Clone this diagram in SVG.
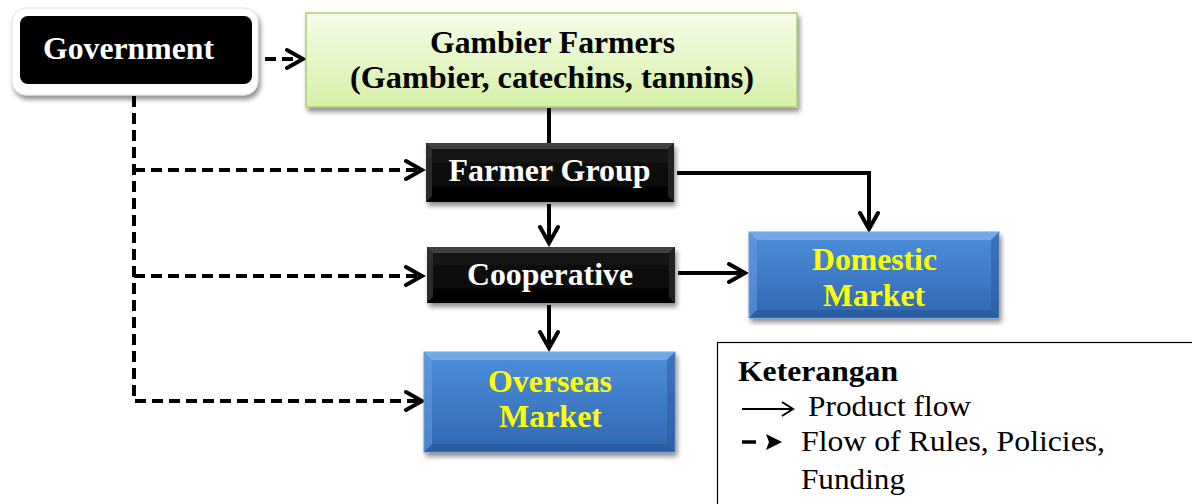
<svg xmlns="http://www.w3.org/2000/svg" width="1192" height="504" viewBox="0 0 1192 504">
<style>
.lbl{font-family:"Liberation Serif","Times New Roman",serif;font-weight:bold;font-size:31px;text-anchor:middle}
.w{fill:#ffffff}
.k{fill:#000000}
.y{fill:#ffff00}
.flow{fill:none;stroke:#000;stroke-width:4}
.dash{fill:none;stroke:#000;stroke-width:4;stroke-dasharray:11 6}
.leg{font-family:"Liberation Serif","Times New Roman",serif;font-size:29px;fill:#000}
</style>
<defs>
<marker id="ah" markerUnits="userSpaceOnUse" markerWidth="24" markerHeight="24" viewBox="0 0 24 24" refX="20" refY="12" orient="auto">
<path d="M4,3 L20,12 L4,21" fill="none" stroke="#000" stroke-width="4" stroke-linejoin="miter" stroke-linecap="round"/>
</marker>
<linearGradient id="green" x1="0" y1="0" x2="0" y2="1">
<stop offset="0" stop-color="#f5fce9"/>
<stop offset="1" stop-color="#d5f0a6"/>
</linearGradient>
<linearGradient id="blue" x1="0" y1="0" x2="0" y2="1">
<stop offset="0" stop-color="#4d8fdb"/>
<stop offset="1" stop-color="#3168b2"/>
</linearGradient>
<linearGradient id="blk" x1="0" y1="0" x2="0" y2="1">
<stop offset="0" stop-color="#1a1a1a"/>
<stop offset="1" stop-color="#000"/>
</linearGradient>
<filter id="sh" x="-10%" y="-10%" width="125%" height="140%">
<feGaussianBlur in="SourceAlpha" stdDeviation="2.5"/>
<feOffset dx="2" dy="4" result="b"/>
<feComponentTransfer><feFuncA type="linear" slope="0.45"/></feComponentTransfer>
<feMerge><feMergeNode/><feMergeNode in="SourceGraphic"/></feMerge>
</filter>
</defs>

<g id="connectors">
<path class="dash" d="M265,59 H303" marker-end="url(#ah)"/>
<path class="dash" d="M134,96 V401 H422" marker-end="url(#ah)"/>
<path class="dash" d="M134,170 H422" marker-end="url(#ah)"/>
<path class="dash" d="M134,276 H422" marker-end="url(#ah)"/>
<path class="flow" d="M549,108 V143"/>
<path class="flow" d="M549,204 V243" marker-end="url(#ah)"/>
<path class="flow" d="M549,305 V348" marker-end="url(#ah)"/>
<path class="flow" d="M677,173 H869 V229" marker-end="url(#ah)"/>
<path class="flow" d="M678,273 H745" marker-end="url(#ah)"/>
</g>

<g id="government">
<rect x="12" y="8" width="246" height="87" rx="14" fill="#fff" stroke="#e0e0e0" stroke-width="1" filter="url(#sh)"/>
<rect x="20" y="16" width="232" height="68" rx="8" fill="#000"/>
<text class="lbl w" x="128.5" y="59" textLength="171" lengthAdjust="spacingAndGlyphs">Government</text>
</g>

<g id="gambier-farmers">
<rect x="306" y="13" width="491" height="94" fill="url(#green)" stroke="#a9d070" stroke-width="1.5" filter="url(#sh)"/>
<text class="lbl k" x="552.5" y="53" textLength="245" lengthAdjust="spacingAndGlyphs">Gambier Farmers</text>
<text class="lbl k" x="552" y="88" textLength="404" lengthAdjust="spacingAndGlyphs">(Gambier, catechins, tannins)</text>
</g>

<g id="farmer-group">
<g filter="url(#sh)">
<rect x="426" y="143" width="248" height="59" fill="url(#blk)"/>
<polygon points="426,143 674,143 668,149 432,149" fill="#555" opacity="0.7"/>
<polygon points="426,143 432,149 432,196 426,202" fill="#333" opacity="0.8"/>
<polygon points="674,143 674,202 668,196 668,149" fill="#222"/>
</g>
<text class="lbl w" x="549.5" y="181" textLength="202" lengthAdjust="spacingAndGlyphs">Farmer Group</text>
</g>

<g id="cooperative">
<g filter="url(#sh)">
<rect x="427" y="247" width="248" height="56" fill="url(#blk)"/>
<polygon points="427,247 675,247 669,253 433,253" fill="#555" opacity="0.7"/>
<polygon points="427,247 433,253 433,297 427,303" fill="#333" opacity="0.8"/>
<polygon points="675,247 675,303 669,297 669,253" fill="#222"/>
</g>
<text class="lbl w" x="550" y="285" textLength="166" lengthAdjust="spacingAndGlyphs">Cooperative</text>
</g>

<g id="domestic-market">
<g filter="url(#sh)">
<rect x="749" y="232" width="250" height="86" fill="url(#blue)" stroke="#6a9bd4" stroke-width="1"/>
<polygon points="749,232 999,232 991,240 757,240" fill="#8cbcf0" opacity="0.6"/>
<polygon points="749,232 757,240 757,310 749,318" fill="#6aa0e0" opacity="0.5"/>
<polygon points="999,232 999,318 991,310 991,240" fill="#2a5a9c" opacity="0.5"/>
<polygon points="749,318 999,318 991,310 757,310" fill="#24508e" opacity="0.5"/>
</g>
<text class="lbl y" x="874.5" y="270" textLength="125" lengthAdjust="spacingAndGlyphs">Domestic</text>
<text class="lbl y" x="874" y="306" textLength="102" lengthAdjust="spacingAndGlyphs">Market</text>
</g>

<g id="overseas-market">
<g filter="url(#sh)">
<rect x="424" y="352" width="251" height="100" fill="url(#blue)" stroke="#6a9bd4" stroke-width="1"/>
<polygon points="424,352 675,352 667,360 432,360" fill="#8cbcf0" opacity="0.6"/>
<polygon points="424,352 432,360 432,444 424,452" fill="#6aa0e0" opacity="0.5"/>
<polygon points="675,352 675,452 667,444 667,360" fill="#2a5a9c" opacity="0.5"/>
<polygon points="424,452 675,452 667,444 432,444" fill="#24508e" opacity="0.5"/>
</g>
<text class="lbl y" x="550" y="392" textLength="124" lengthAdjust="spacingAndGlyphs">Overseas</text>
<text class="lbl y" x="550.5" y="427" textLength="103" lengthAdjust="spacingAndGlyphs">Market</text>
</g>

<g id="legend">
<rect x="717.5" y="342.5" width="480" height="170" fill="#fff" stroke="#000" stroke-width="1.2"/>
<text class="leg" x="738" y="381" font-weight="bold" textLength="160" lengthAdjust="spacingAndGlyphs">Keterangan</text>
<path d="M742,409 H792 M782,402 L793,409 L782,416" fill="none" stroke="#000" stroke-width="2"/>
<text class="leg" x="808" y="416" textLength="163" lengthAdjust="spacingAndGlyphs">Product flow</text>
<path d="M742,442 H756" stroke="#000" stroke-width="3.5"/>
<polygon points="766,434 782,442 766,450 769,442" fill="#000"/>
<text class="leg" x="801" y="451" textLength="304" lengthAdjust="spacingAndGlyphs">Flow of Rules, Policies,</text>
<text class="leg" x="801" y="489" textLength="104" lengthAdjust="spacingAndGlyphs">Funding</text>
</g>
</svg>
